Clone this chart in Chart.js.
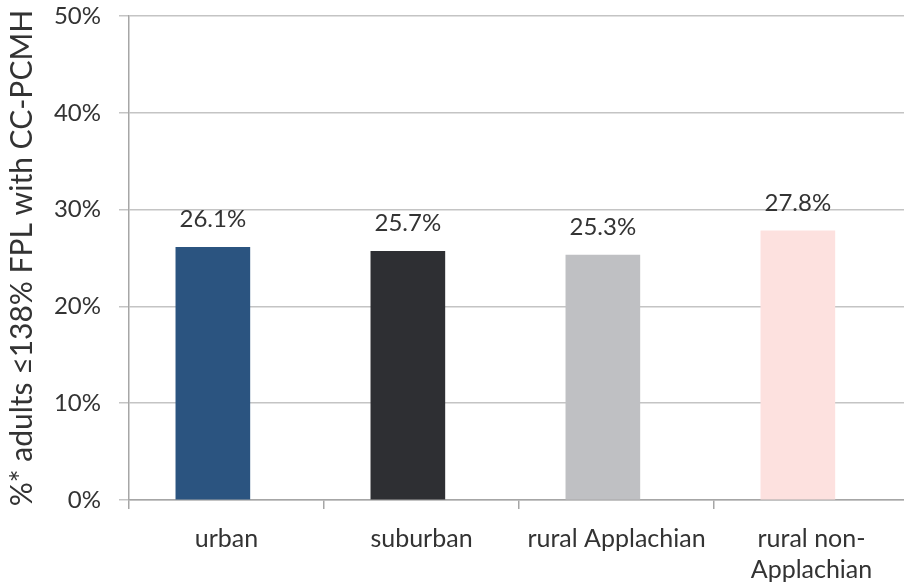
<!DOCTYPE html>
<html>
<head>
<meta charset="utf-8">
<script src="https://cdn.jsdelivr.net/npm/chart.js@4"></script>
<style>
html,body{margin:0;padding:0;background:#fff;overflow:hidden;}
#wrap{width:912px;height:588px;position:relative;}
</style>
</head>
<body>
<div id="wrap"><canvas id="c" width="912" height="588"></canvas></div>
<script>
const categories = ["urban", "suburban", "rural Applachian", ["rural non-", "Applachian"]];
const values = [26.1, 25.7, 25.3, 27.8];
const barColors = ["#2B5480", "#2E2F33", "#BFC0C3", "#FDE1DF"];
const yTicks = [0, 10, 20, 30, 40, 50];
const yTitle = "%* adults \u2264138% FPL with CC-PCMH";

const FONT = "Lato, 'Open Sans', sans-serif";
const TEXT = "#333333";

const valueLabels = {
  id: 'valueLabels',
  afterDatasetsDraw(chart) {
    const ctx = chart.ctx;
    const meta = chart.getDatasetMeta(0);
    ctx.save();
    ctx.font = "24px " + FONT;
    ctx.fillStyle = TEXT;
    ctx.textAlign = 'center';
    ctx.textBaseline = 'middle';
    meta.data.forEach((bar, i) => {
      ctx.fillText(values[i].toFixed(1) + '%', bar.x, bar.y - 28);
    });
    ctx.restore();
  }
};

new Chart(document.getElementById('c'), {
  type: 'bar',
  data: {
    labels: categories,
    datasets: [{
      data: values.map((v, i) => ({x: i, y: v})),
      backgroundColor: barColors,
      borderWidth: 0,
      barThickness: 74,
      xAxisID: 'xb'
    }]
  },
  options: {
    responsive: false,
    animation: false,
    layout: {padding: {top: 16, right: 3, left: 0, bottom: 0}},
    plugins: {legend: {display: false}, tooltip: {enabled: false}},
    scales: {
      x: {
        type: 'category',
        offset: true,
        position: 'bottom',
        grid: {offset: true, drawOnChartArea: false, tickLength: 9, color: '#A6A6A6', lineWidth: 1.5},
        border: {display: true, color: '#A6A6A6', width: 1.5},
        ticks: {color: TEXT, font: {family: FONT, size: 25, lineHeight: 1.25}, padding: 14, maxRotation: 0, autoSkip: false},
        afterFit(s) { s.height = 88; s.paddingTop = 0; s.paddingBottom = 0; }
      },
      xb: {
        type: 'linear',
        display: false,
        offset: false,
        min: -0.43,
        max: 3.57
      },
      y: {
        min: 0,
        max: 50,
        afterBuildTicks(s) { s.ticks = yTicks.map(v => ({value: v})); },
        grid: {color: '#C4C4C4', lineWidth: 1.5, tickLength: 10},
        border: {display: true, color: '#A6A6A6', width: 1.5},
        ticks: {color: TEXT, font: {family: FONT, size: 24}, padding: 18, callback: v => v + '%'},
        title: {display: true, text: yTitle, color: TEXT, font: {family: FONT, size: 30}, padding: {top: 4, bottom: 0}},
        afterFit(s) { s.width = 129; s.paddingTop = 0; s.paddingBottom = 0; }
      }
    }
  },
  plugins: [valueLabels]
});
</script>
</body>
</html>
